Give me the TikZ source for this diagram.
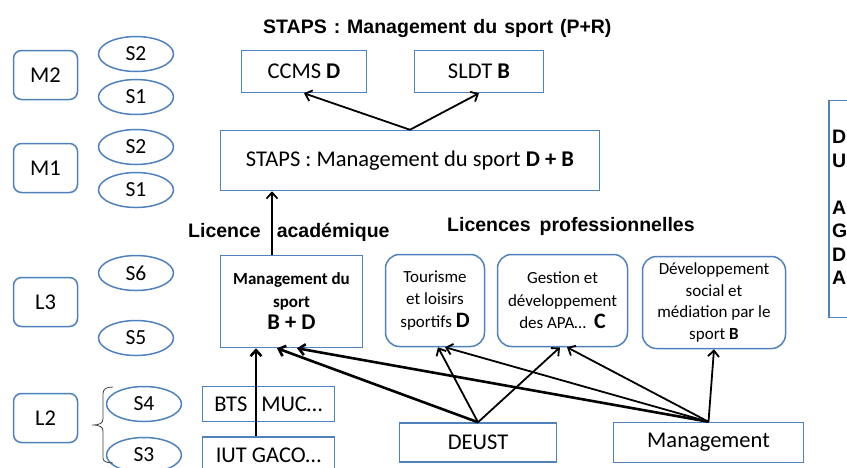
\documentclass[tikz,border=0pt]{standalone}
\usepackage{fontspec}
\setmainfont{Carlito}
\newfontfamily\titrefont{Liberation Sans}
\usetikzlibrary{arrows.meta,shapes.geometric}

\definecolor{bleucadre}{RGB}{79,129,189}

\tikzset{
  niveau/.style={draw=bleucadre,line width=1.5pt,rounded corners=8pt,
    minimum width=64pt,minimum height=49pt,inner sep=0pt,
    font=\fontsize{22.5}{26}\selectfont},
  semestre/.style={draw=bleucadre,line width=1.5pt,ellipse,
    minimum width=75pt,minimum height=35pt,inner sep=0pt,
    font=\fontsize{21.5}{24}\selectfont},
  diplome/.style={draw=bleucadre,line width=1.5pt,inner sep=0pt,
    font=\fontsize{22.5}{26}\selectfont},
  lpro/.style={draw=bleucadre,line width=1.5pt,rounded corners=14pt,
    minimum height=92pt,inner sep=0pt,align=center,
    font=\fontsize{17}{22.5}\selectfont},
  titre/.style={inner sep=0pt,font=\titrefont\bfseries\fontsize{19.5}{23.5}\selectfont},
  fleche/.style={line width=1.8pt,-{Straight Barb[length=6pt,width=11pt]}},
  grosse/.style={fleche,line width=2.6pt},
}

\begin{document}
\begin{tikzpicture}[x=1pt,y=-1pt]
  \useasboundingbox (0,0) rectangle (847,467);

  % niveaux et semestres
  \node[niveau] (m2) at (45.5,75) {M2};
  \node[niveau] (m1) at (45.5,168) {M1};
  \node[niveau] (l3) at (45.5,302) {L3};
  \node[niveau] (l2) at (45.5,418) {L2};
  \node[semestre] (m2s2) at (136,54) {S2};
  \node[semestre] (m2s1) at (136,97) {S1};
  \node[semestre] (m1s2) at (136,147) {S2};
  \node[semestre] (m1s1) at (136,190) {S1};
  \node[semestre] (s6) at (136,273) {S6};
  \node[semestre] (s5) at (136,338) {S5};
  \node[semestre] (s4) at (144,404) {S4};
  \node[semestre] (s3) at (144,455) {S3};
  % accolade L2
  \draw[line width=0.8pt,black!75]
    (113,387) .. controls (106,387) and (103,389) .. (103,394) -- (103,419)
    .. controls (103,423) and (100,425) .. (92,425)
    .. controls (100,425) and (103,427) .. (103,431) -- (103,458)
    .. controls (103,461) and (106,463) .. (113,463);

  % master
  \node[titre,anchor=base west] (titremaster) at (263,33.5)
    {STAPS\hspace{7pt}:\hspace{7pt}Management\hspace{7pt}du\hspace{7pt}sport\hspace{7pt}(P+R)};
  \node[diplome,minimum width=125pt,minimum height=42pt] (ccms) at (304,71.5) {CCMS \textbf{D}};
  \node[diplome,minimum width=129pt,minimum height=42pt] (sldt) at (479,71.5) {SLDT \textbf{B}};
  \node[diplome,minimum width=379pt,minimum height=60pt] (staps) at (410,160.5)
    {STAPS : Management du sport \textbf{D + B}};
  \draw[fleche] (staps.north) -- (ccms.south);
  \draw[fleche] (staps.north) -- (sldt.south);

  % licences
  \node[titre,anchor=base west] (licacad) at (188,237) {Licence\hspace{16pt}académique};
  \node[titre,anchor=base west] (licpro) at (447,231) {Licences\hspace{9pt}professionnelles};
  \node[diplome,minimum width=142pt,minimum height=92pt,align=center,
    font=\bfseries\fontsize{17}{22.5}\selectfont] (mgmt) at (291.5,301.5)
    {Management du\\sport\\{\fontsize{22.5}{23}\selectfont B + D}};
  \node[lpro,minimum width=99pt] (tour) at (435,300.5)
    {Tourisme\\et loisirs\\sportifs {\bfseries\fontsize{22}{22}\selectfont D}};
  \node[lpro,minimum width=130pt] (gest) at (562.5,300.5)
    {Gestion et\\développement\\des APA…\hspace{8pt}{\bfseries\fontsize{22}{22}\selectfont C}};
  \node[lpro,minimum width=143pt,font=\fontsize{17}{21.5}\selectfont] (dev) at (714,302.5)
    {Développement\\social et\\médiation par le\\sport \textbf{B}};
  \draw[fleche] ([xshift=-19.5pt]mgmt.north) -- ([xshift=-19.5pt]mgmt.north |- staps.south);

  % formations bac+2
  \node[diplome,minimum width=132pt,minimum height=35pt] (bts) at (268.5,404) {BTS\hspace{14pt}MUC…};
  \node[diplome,minimum width=132pt,minimum height=36pt] (iut) at (268.5,455) {IUT GACO…};
  \node[diplome,minimum width=157pt,minimum height=39pt] (deust) at (478,442.5) {DEUST};
  \node[diplome,minimum width=190pt,minimum height=40pt] (mgt) at (708.5,442.5) {Management};

  \draw[grosse] ([xshift=-12.5pt]iut.north) -- ([xshift=-12.5pt]iut.north |- mgmt.south);
  \draw[grosse] (deust.north) -- ([xshift=-14.5pt]mgmt.south);
  \draw[grosse] (mgt.north) -- ([xshift=5.5pt]mgmt.south);
  \draw[fleche] (deust.north) -- ([xshift=3pt]tour.south);
  \draw[fleche] (deust.north) -- ([xshift=-2.5pt]gest.south);
  \draw[fleche] (mgt.north) -- ([xshift=10pt]tour.south);
  \draw[fleche] (mgt.north) -- ([xshift=4.5pt]gest.south);
  \draw[fleche] (mgt.north) -- (dev.south);

  % cadre coupe a droite
  \node[draw=bleucadre,line width=1.5pt,minimum width=80pt,minimum height=217pt,
    inner sep=0pt] (legende) at (869,209) {};
  \node[titre,anchor=north west,align=left] (legtexte) at (832,130)
    {D\\U\\\strut\\A\\G\\D\\A};
\end{tikzpicture}
\end{document}
